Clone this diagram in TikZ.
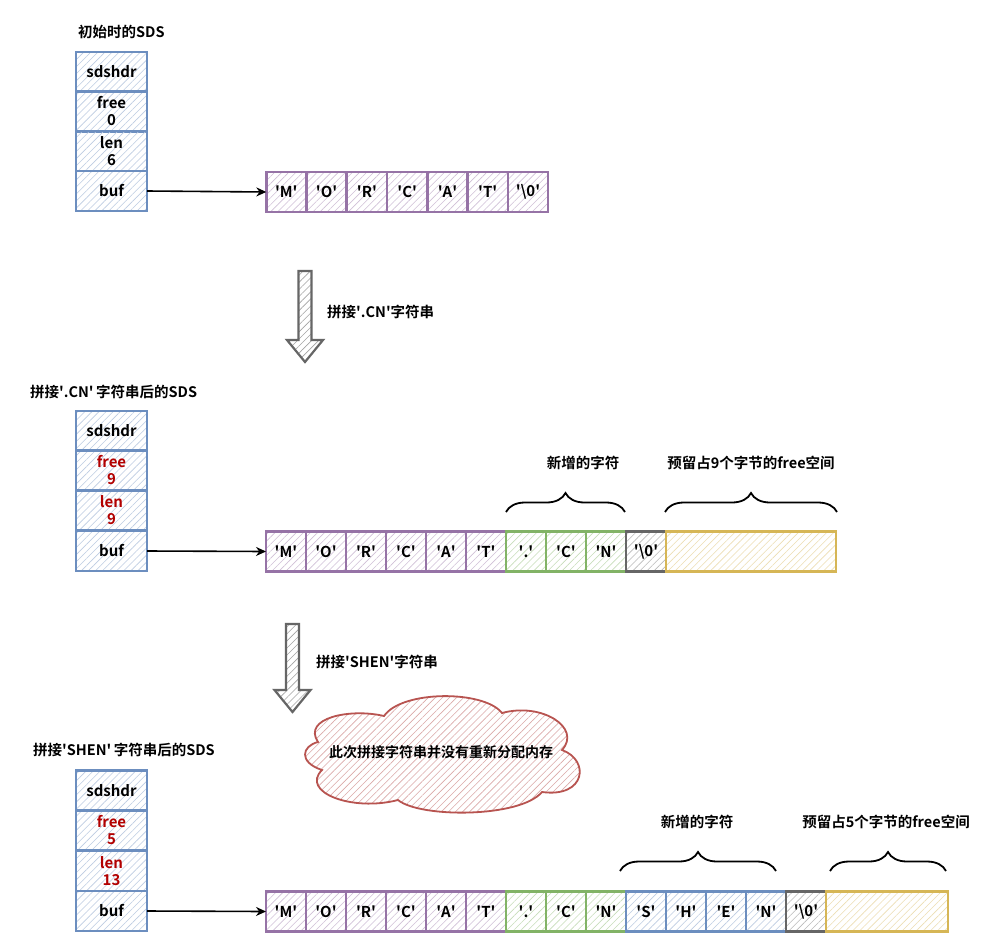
\documentclass[tikz,border=0pt]{standalone}
\usepackage{fontspec}
\setmainfont{Noto Sans CJK SC}[BoldFont={* Bold}]
\usetikzlibrary{patterns.meta,decorations.pathreplacing,arrows.meta}
\definecolor{bdblue}{HTML}{6C8EBF}
\definecolor{bdpurple}{HTML}{9673A6}
\definecolor{bdgreen}{HTML}{82B366}
\definecolor{bdgray}{HTML}{666666}
\definecolor{bdyellow}{HTML}{D6B656}
\definecolor{bdred}{HTML}{B85450}
\definecolor{txtred}{HTML}{B20000}
\newcommand\qq[1]{\textquotesingle#1\textquotesingle}
\tikzset{
  hatch/.style={pattern={Lines[angle=45,distance=5pt,line width=0.6pt]},pattern color=#1},
  cellbox/.style={draw=#1, line width=2.4pt, minimum width=40pt, minimum height=40pt,
    inner sep=0pt, outer sep=0pt, font=\bfseries\fontsize{15}{17}\selectfont, hatch=#1!45},
  hdrbox/.style={cellbox=bdblue, minimum width=71pt, align=center},
  pcell/.style={cellbox=bdpurple},
  gcell/.style={cellbox=bdgreen},
  bcell/.style={cellbox=bdblue},
  kcell/.style={cellbox=bdgray},
  ycell/.style={cellbox=bdyellow},
  title/.style={anchor=west, font=\bfseries\fontsize{14.5}{16}\selectfont, inner sep=0pt},
  lbl/.style={font=\bfseries\fontsize{14.5}{16}\selectfont, inner sep=0pt},
  ptr/.style={-{Stealth[length=10pt,width=9pt]}, line width=1.6pt, black},
  bracestyle/.style={decorate, decoration={brace, amplitude=19pt}, line width=1.8pt, black},
  bigarrow/.style={draw=bdgray, line width=2.2pt, line join=miter, hatch=bdgray!60},
  cloudstyle/.style={draw=bdred, line width=1.8pt, hatch=bdred!50},
  redtxt/.style={text=txtred}
}
\begin{document}
\begin{tikzpicture}[x=1pt,y=-1pt]
\useasboundingbox (0,0) rectangle (987,942);
\fill[white] (0,0) rectangle (987,942);

% ---------- structure 1 ----------
\node[title] (t1) at (78,32) {初始时的SDS};
\node[hdrbox] (h1s) at (111.5,72) {sdshdr};
\node[hdrbox] (h1f) at (111.5,111.5) {free\\0};
\node[hdrbox] (h1l) at (111.5,151) {len\\6};
\node[hdrbox] (h1b) at (111.5,191) {buf};
\foreach \c [count=\i] in {M,O,R,C,A,T}
  \node[pcell] (r1c\i) at ({246+40.3*\i},192) {\qq{\c}};
\node[pcell] (r1c7) at (528,192) {\qq{\textbackslash 0}};
\draw[ptr] (h1b.east) -- (r1c1.west);

% ---------- arrow 1 ----------
\draw[bigarrow] (298.5,271) -- (311.5,271) -- (311.5,340) -- (323,340) -- (305,362)
  -- (287,340) -- (298.5,340) -- cycle;
\node[lbl, anchor=west] (a1) at (327,312) {拼接\textquotesingle.CN\textquotesingle 字符串};

% ---------- structure 2 ----------
\node[title] (t2) at (30,392) {拼接\textquotesingle.CN\textquotesingle\,字符串后的SDS};
\node[hdrbox] (h2s) at (111.5,431) {sdshdr};
\node[hdrbox,redtxt] (h2f) at (111.5,470.5) {free\\9};
\node[hdrbox,redtxt] (h2l) at (111.5,510.5) {len\\9};
\node[hdrbox] (h2b) at (111.5,551) {buf};
\foreach \c [count=\i] in {M,O,R,C,A,T}
  \node[pcell] (r2c\i) at ({246+40*\i},551.5) {\qq{\c}};
\node[gcell] (r2c7) at (526,551.5) {\qq{.}};
\node[gcell] (r2c8) at (566,551.5) {\qq{C}};
\node[gcell] (r2c9) at (606,551.5) {\qq{N}};
\node[kcell] (r2c10) at (646,551.5) {\qq{\textbackslash 0}};
\node[ycell, minimum width=170pt] (r2free) at (751,551.5) {};
\draw[ptr] (h2b.east) -- (r2c1.west);
\draw[bracestyle] (506,512) -- (625,512);
\draw[bracestyle] (665,512) -- (837,512);
\node[lbl] (n2a) at (583,463) {新增的字符};
\node[lbl] (n2b) at (751,463) {预留占9个字节的free空间};

% ---------- arrow 2 ----------
\draw[bigarrow] (286,624) -- (299,624) -- (299,690) -- (310.5,690) -- (292.5,712)
  -- (274.5,690) -- (286,690) -- cycle;
\node[lbl, anchor=west] (a2) at (316,662) {拼接\textquotesingle SHEN\textquotesingle 字符串};

% ---------- cloud ----------
\draw[cloudstyle] (318,742) .. controls (302,718) and (350,708) .. (384,716)
  .. controls (402,690) and (484,690) .. (502,713)
  .. controls (542,702) and (582,728) .. (562,750)
  .. controls (590,760) and (586,798) .. (542,792)
  .. controls (520,818) and (420,818) .. (398,800)
  .. controls (352,812) and (300,792) .. (322,770)
  .. controls (298,762) and (302,746) .. (318,742) -- cycle;
\node[font=\bfseries\fontsize{14}{15}\selectfont, inner sep=0pt] (cl) at (441,752) {此次拼接字符串并没有重新分配内存};

% ---------- structure 3 ----------
\node[title] (t3) at (33,750) {拼接\textquotesingle SHEN\textquotesingle\,字符串后的SDS};
\node[hdrbox] (h3s) at (111.5,790.5) {sdshdr};
\node[hdrbox,redtxt] (h3f) at (111.5,830.5) {free\\5};
\node[hdrbox,redtxt] (h3l) at (111.5,871) {len\\13};
\node[hdrbox] (h3b) at (111.5,911) {buf};
\foreach \c [count=\i] in {M,O,R,C,A,T}
  \node[pcell] (r3c\i) at ({246+40*\i},911.5) {\qq{\c}};
\node[gcell] (r3c7) at (526,911.5) {\qq{.}};
\node[gcell] (r3c8) at (566,911.5) {\qq{C}};
\node[gcell] (r3c9) at (606,911.5) {\qq{N}};
\node[bcell] (r3c10) at (646,911.5) {\qq{S}};
\node[bcell] (r3c11) at (686,911.5) {\qq{H}};
\node[bcell] (r3c12) at (726,911.5) {\qq{E}};
\node[bcell] (r3c13) at (766,911.5) {\qq{N}};
\node[kcell] (r3c14) at (806,911.5) {\qq{\textbackslash 0}};
\node[ycell, minimum width=122pt] (r3free) at (887,911.5) {};
\draw[ptr] (h3b.east) -- (r3c1.west);
\draw[bracestyle] (620,871) -- (776,871);
\draw[bracestyle] (830,871) -- (946,871);
\node[lbl] (n3a) at (697,822) {新增的字符};
\node[lbl] (n3b) at (886,822) {预留占5个字节的free空间};
\end{tikzpicture}
\end{document}
